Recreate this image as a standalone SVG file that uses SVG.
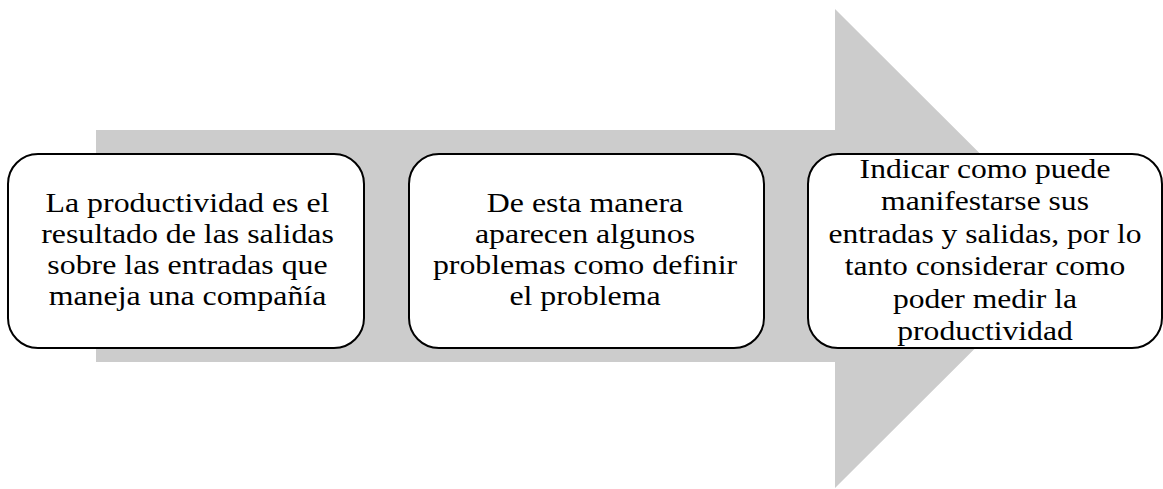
<svg xmlns="http://www.w3.org/2000/svg" width="1163" height="489" viewBox="0 0 1163 489">
<style>
.box{fill:#ffffff;stroke:#000000;stroke-width:2}
.t{font-family:"Liberation Serif","Times New Roman",serif;font-size:27px;fill:#000000;text-anchor:middle}
</style>
<rect width="1163" height="489" fill="#ffffff"/>
<g id="arrow">
<polygon points="96,130 835,130 835,9 1075,248.5 835,488 835,362 96,362" fill="#cccccc"/>
</g>
<g id="connectors"></g>
<g id="node1">
<rect class="box" x="8" y="154" width="356" height="194" rx="30" ry="30"/>
<g transform="translate(187.5,0) scale(1.18,1)">
<text class="t" x="0" y="212">La productividad es el</text>
<text class="t" x="0" y="243">resultado de las salidas</text>
<text class="t" x="0" y="274">sobre las entradas que</text>
<text class="t" x="0" y="305">maneja una compañía</text>
</g>
</g>
<g id="node2">
<rect class="box" x="409" y="154" width="355" height="194" rx="30" ry="30"/>
<g transform="translate(585,0) scale(1.18,1)">
<text class="t" x="0" y="212">De esta manera</text>
<text class="t" x="0" y="243">aparecen algunos</text>
<text class="t" x="0" y="274">problemas como definir</text>
<text class="t" x="0" y="305">el problema</text>
</g>
</g>
<g id="node3">
<rect class="box" x="808" y="154" width="354" height="194" rx="30" ry="30"/>
<g transform="translate(985,0) scale(1.17,1)">
<text class="t" x="0" y="178">Indicar como puede</text>
<text class="t" x="0" y="210.4">manifestarse sus</text>
<text class="t" x="0" y="242.8">entradas y salidas, por lo</text>
<text class="t" x="0" y="275.2">tanto considerar como</text>
<text class="t" x="0" y="307.6">poder medir la</text>
<text class="t" x="0" y="340">productividad</text>
</g>
</g>
</svg>
